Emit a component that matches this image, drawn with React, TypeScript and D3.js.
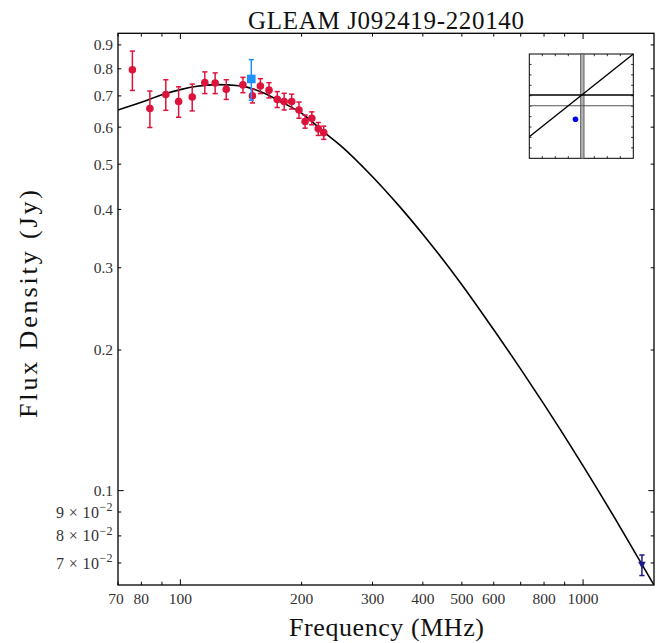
import React from 'react';
import * as d3 from 'd3';

// ---- data ----
const gleamFreq = [76, 84, 92, 99, 107, 115, 122, 130, 143, 151, 158, 166, 174, 181, 189, 197, 204, 212, 220, 227];
const gleamFlux = [0.796, 0.658, 0.705, 0.681, 0.696, 0.748, 0.746, 0.723, 0.739, 0.700, 0.735, 0.720, 0.688, 0.681, 0.681, 0.653, 0.617, 0.627, 0.595, 0.584];
const gleamErr = [0.077, 0.059, 0.053, 0.051, 0.046, 0.040, 0.038, 0.035, 0.028, 0.024, 0.027, 0.027, 0.027, 0.028, 0.025, 0.026, 0.020, 0.020, 0.019, 0.019];

const tgssFreq = [150];
const tgssFlux = [0.761];
const tgssErr = [0.076];

const nvssFreq = [1400];
const nvssFlux = [0.0693];
const nvssErr = [0.0035];

const fitFreq = [70, 80, 90, 100, 110, 123, 140, 160, 180, 200, 227, 250, 300, 350, 400, 500, 600, 700, 800, 1000, 1200, 1500];
const fitFlux = [0.653, 0.678, 0.704, 0.722, 0.734, 0.740, 0.736, 0.712, 0.676, 0.643, 0.586, 0.548, 0.470, 0.406, 0.354, 0.276, 0.221, 0.182, 0.153, 0.113, 0.0872, 0.0628];

const xMajorTicks = [100, 1000];
const xMinorTicks = [70, 80, 90, 200, 300, 400, 500, 600, 700, 800, 900];
const xTickLabels = [70, 80, 100, 200, 300, 400, 500, 600, 800, 1000];

const yMajorTicks = [0.1];
const yMinorTicks = [0.07, 0.08, 0.09, 0.2, 0.3, 0.4, 0.5, 0.6, 0.7, 0.8, 0.9];
const yDecimalLabels = [0.1, 0.2, 0.3, 0.4, 0.5, 0.6, 0.7, 0.8, 0.9];
const ySciLabels = [7, 8, 9];

// inset (normalised units)
const insetXTicks = [0.125, 0.25, 0.375, 0.5, 0.625, 0.75, 0.875];
const insetYTicks = [0.1, 0.2, 0.3, 0.4, 0.5, 0.6, 0.7, 0.8, 0.9];
const insetDiagX = [0, 1];
const insetDiagY = [0.207, 1];
const insetHBlack = [0.607];
const insetHGray = [0.504];
const insetVBand = [0.494, 0.526];
const insetDotX = [0.444];
const insetDotY = [0.374];

const W = 660;
const H = 643;
const L = 118, R = 654, T = 33.3, B = 585;
const FONT = "'Liberation Serif', 'Times New Roman', serif";

export default function App() {
  const x = d3.scaleLog().domain([70, 1500]).range([L, R]);
  const y = d3.scaleLog().domain([0.0628, 0.953]).range([B, T]);

  const ix = d3.scaleLinear().domain([0, 1]).range([529.3, 633.3]);
  const iy = d3.scaleLinear().domain([0, 1]).range([158.3, 54]);

  const fitPts = fitFreq.map((f, i) => [x(f), y(fitFlux[i])] as [number, number]);
  const fitPath = d3.line().curve(d3.curveMonotoneX)(fitPts) || '';

  const capW = 2.6;
  const errBar = (fx: number, fy: number, e: number, color: string, key: string) => {
    const cx = x(fx);
    const y1 = y(fy + e);
    const y2 = y(fy - e);
    return (
      <g key={key} stroke={color} strokeWidth={1.5}>
        <line x1={cx} x2={cx} y1={y1} y2={y2} />
        <line x1={cx - capW} x2={cx + capW} y1={y1} y2={y1} />
        <line x1={cx - capW} x2={cx + capW} y1={y2} y2={y2} />
      </g>
    );
  };

  const majLen = 5.7, minLen = 3.3;

  return (
    <svg width={W} height={H} style={{ position: 'absolute', left: 0, top: 0, background: '#fff' }} fontFamily={FONT}>
      <rect x={0} y={0} width={W} height={H} fill="#fff" />
      <defs>
        <clipPath id="plotclip">
          <rect x={L} y={T} width={R - L} height={B - T} />
        </clipPath>
      </defs>

      {/* fit curve */}
      <path d={fitPath} fill="none" stroke="#000" strokeWidth={1.6} clipPath="url(#plotclip)" />

      {/* GLEAM points */}
      {gleamFreq.map((f, i) => errBar(f, gleamFlux[i], gleamErr[i], '#DC143C', 'ge' + i))}
      {gleamFreq.map((f, i) => (
        <circle key={'gp' + i} cx={x(f)} cy={y(gleamFlux[i])} r={3.8} fill="#DC143C" />
      ))}

      {/* TGSS */}
      {tgssFreq.map((f, i) => errBar(f, tgssFlux[i], tgssErr[i], '#1E90FF', 'te' + i))}
      {tgssFreq.map((f, i) => (
        <rect key={'tp' + i} x={x(f) - 4.3} y={y(tgssFlux[i]) - 4.3} width={8.6} height={8.6} fill="#1E90FF" />
      ))}

      {/* NVSS */}
      {nvssFreq.map((f, i) => errBar(f, nvssFlux[i], nvssErr[i], '#1a1a8a', 'ne' + i))}
      {nvssFreq.map((f, i) => {
        const cx = x(f), cy = y(nvssFlux[i]);
        return (
          <path key={'np' + i} d={`M${cx - 3.8},${cy - 3.2} L${cx + 3.8},${cy - 3.2} L${cx},${cy + 3.8} Z`} fill="#1a1a8a" />
        );
      })}

      {/* frame */}
      <rect x={L} y={T} width={R - L} height={B - T} fill="none" stroke="#000" strokeWidth={1.3} />

      {/* x ticks (bottom and top, inward) */}
      {xMajorTicks.map((t) => (
        <g key={'xM' + t} stroke="#000" strokeWidth={1}>
          <line x1={x(t)} x2={x(t)} y1={B} y2={B - majLen} />
          <line x1={x(t)} x2={x(t)} y1={T} y2={T + majLen} />
        </g>
      ))}
      {xMinorTicks.map((t) => (
        <g key={'xm' + t} stroke="#000" strokeWidth={1}>
          <line x1={x(t)} x2={x(t)} y1={B} y2={B - minLen} />
          <line x1={x(t)} x2={x(t)} y1={T} y2={T + minLen} />
        </g>
      ))}
      {xTickLabels.map((t) => (
        <text key={'xl' + t} x={x(t) - (t === 70 ? 2 : 0)} y={604} fontSize={15.5} textAnchor="middle" fill="#333">
          {t}
        </text>
      ))}

      {/* y ticks (left and right, inward) */}
      {yMajorTicks.map((t) => (
        <g key={'yM' + t} stroke="#000" strokeWidth={1}>
          <line x1={L} x2={L + majLen} y1={y(t)} y2={y(t)} />
          <line x1={R} x2={R - majLen} y1={y(t)} y2={y(t)} />
        </g>
      ))}
      {yMinorTicks.map((t) => (
        <g key={'ym' + t} stroke="#000" strokeWidth={1}>
          <line x1={L} x2={L + minLen} y1={y(t)} y2={y(t)} />
          <line x1={R} x2={R - minLen} y1={y(t)} y2={y(t)} />
        </g>
      ))}
      {yDecimalLabels.map((t) => (
        <text key={'yl' + t} x={113} y={y(t)} dy="0.35em" fontSize={15.5} textAnchor="end" fill="#333">
          {t}
        </text>
      ))}
      {ySciLabels.map((m) => (
        <text key={'ys' + m} x={113} y={y(m / 100)} dy="0.35em" fontSize={16} textAnchor="end" fill="#333" letterSpacing={0.4}>
          {`${m} × 10`}
          <tspan fontSize={12} dy="-6.5">−2</tspan>
        </text>
      ))}

      {/* labels */}
      <text x={(L + R) / 2} y={29} fontSize={25} textAnchor="middle" textLength={276} lengthAdjust="spacing" fill="#111">
        GLEAM J092419-220140
      </text>
      <text x={386.5} y={636} fontSize={26} textAnchor="middle" textLength={195} lengthAdjust="spacing" fill="#111">
        Frequency (MHz)
      </text>
      <text transform={`translate(37,304) rotate(-90)`} x={0} y={0} fontSize={26} textAnchor="middle" textLength={228} lengthAdjust="spacing" fill="#111">
        Flux Density (Jy)
      </text>

      {/* inset */}
      <g>
        <rect x={ix(0)} y={iy(1)} width={ix(1) - ix(0)} height={iy(0) - iy(1)} fill="#fff" stroke="#000" strokeWidth={1} />
        {insetXTicks.map((t) => (
          <g key={'ixt' + t} stroke="#000" strokeWidth={0.8}>
            <line x1={ix(t)} x2={ix(t)} y1={iy(0)} y2={iy(0) - 2.2} />
            <line x1={ix(t)} x2={ix(t)} y1={iy(1)} y2={iy(1) + 2.2} />
          </g>
        ))}
        {insetYTicks.map((t) => (
          <g key={'iyt' + t} stroke="#000" strokeWidth={0.8}>
            <line x1={ix(0)} x2={ix(0) + 2.2} y1={iy(t)} y2={iy(t)} />
            <line x1={ix(1)} x2={ix(1) - 2.2} y1={iy(t)} y2={iy(t)} />
          </g>
        ))}
        <rect x={ix(insetVBand[0])} y={iy(1)} width={ix(insetVBand[1]) - ix(insetVBand[0])} height={iy(0) - iy(1)} fill="#b5b5b5" stroke="#555" strokeWidth={0.9} />
        {insetHGray.map((v) => (
          <line key={'ihg' + v} x1={ix(0)} x2={ix(1)} y1={iy(v)} y2={iy(v)} stroke="#555" strokeWidth={1.1} />
        ))}
        {insetHBlack.map((v) => (
          <line key={'ihb' + v} x1={ix(0)} x2={ix(1)} y1={iy(v)} y2={iy(v)} stroke="#000" strokeWidth={1.3} />
        ))}
        <line x1={ix(insetDiagX[0])} y1={iy(insetDiagY[0])} x2={ix(insetDiagX[1])} y2={iy(insetDiagY[1])} stroke="#000" strokeWidth={1.4} />
        {insetDotX.map((v, i) => (
          <circle key={'idot' + i} cx={ix(v)} cy={iy(insetDotY[i])} r={2.8} fill="#0000ee" />
        ))}
      </g>
    </svg>
  );
}
